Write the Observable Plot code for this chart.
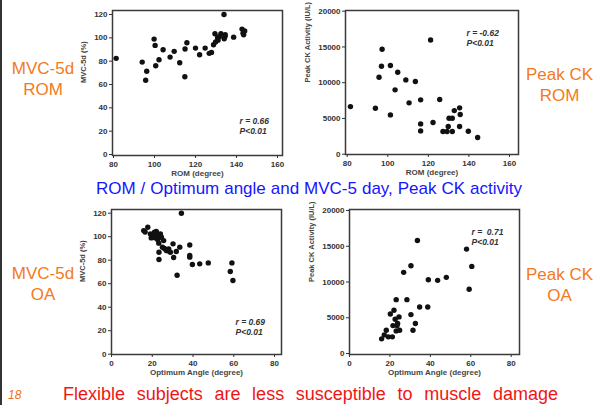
<!DOCTYPE html>
<html><head><meta charset="utf-8">
<script src="https://cdn.jsdelivr.net/npm/d3@7"></script>
<script src="https://cdn.jsdelivr.net/npm/@observablehq/plot@0.6"></script>
<style>
html,body{margin:0;padding:0;background:#fff;}
#slide{position:relative;width:603px;height:405px;overflow:hidden;background:#fff;font-family:"Liberation Sans",Arial,sans-serif;}
.panel{position:absolute;}
.lab{position:absolute;color:#f47a20;font-size:17px;line-height:21px;text-align:center;white-space:nowrap;}
#sub{position:absolute;left:96px;top:180px;width:426px;color:#1515ff;font-size:17px;line-height:17px;text-align:justify;text-align-last:justify;white-space:nowrap;}
#foot{position:absolute;left:63px;top:385px;width:495px;color:#f01515;font-size:18px;line-height:18px;text-align:justify;text-align-last:justify;white-space:nowrap;}
#num{position:absolute;left:8px;top:389px;color:#f07020;font-size:12px;line-height:12px;font-style:italic;}
#edge{position:absolute;left:0;top:0;width:2px;height:405px;background:#333;}
</style></head>
<body>
<div id="slide">
  <div id="edge"></div>
  <div class="panel" id="pA" style="left:60px;top:0px"></div>
  <div class="panel" id="pB" style="left:300px;top:0px"></div>
  <div class="panel" id="pC" style="left:60px;top:195px"></div>
  <div class="panel" id="pD" style="left:300px;top:195px"></div>
  <div class="lab" style="left:0;top:58px;width:86px">MVC-5d<br>ROM</div>
  <div class="lab" style="left:519px;top:64px;width:81px">Peak CK<br>ROM</div>
  <div class="lab" style="left:0;top:263px;width:86px">MVC-5d<br>OA</div>
  <div class="lab" style="left:519px;top:264px;width:81px">Peak CK<br>OA</div>
  <div id="sub">ROM / Optimum angle and MVC-5 day, Peak CK activity</div>
  <div id="num">18</div>
  <div id="foot">Flexible subjects are less susceptible to muscle damage</div>
</div>
<script>
// Panel A: ROM vs MVC-5d
const romA = [81.3,94,95.7,96.2,99.8,100.3,100.6,102.2,104.2,107.6,109.6,112.3,114.8,114.9,115.8,120,122,124.7,126.7,127.8,128.8,129.5,130.8,131.7,132.4,133.9,134,134.4,134.5,138.6,142.7,143.2,143.5,144,131,129.8];
const mvcA = [82.4,79.2,63.6,71.3,98.9,93.5,76.1,81.2,89.8,83.5,88.4,78.7,66.7,90.4,95.8,91.2,85.5,91.2,86.7,87.5,94.1,103.5,100.1,101.2,103.5,120,99.2,101.2,102.6,100.6,107.5,104,102.6,105.8,98,96.5];
// Panel B: ROM vs Peak CK
const romB = [81.6,93.9,95.7,97.2,96.9,101.3,101.3,103.6,104.9,108.9,110.5,113.6,116.2,116.2,116.2,121.1,122.3,125.6,127.2,129.2,129.8,130.2,131.8,131.8,132.8,135.4,135.7,135.4,139.7,144.3];
const ckB = [6660,6430,10770,14680,12300,12400,5500,9000,11460,10390,7180,10160,7600,4240,3260,15980,4430,7640,3170,3170,3870,5030,5030,3170,6100,6480,5550,3870,3220,2330];
// Panel C: Optimum angle vs MVC-5d
const oaC = [15.8,17.8,16.5,19.1,20.4,21.1,21.6,22.4,22.7,23.2,23.3,23.3,24,24.5,25,25.6,26.9,28.1,28.9,30.2,30.5,31.8,32.2,33.5,34.3,38.4,38.4,38.4,39.7,43.3,47.5,58.3,59.1,59.6,19.5,21,23.8,26,22,27.5];
const mvcC = [105.2,108,104,102.4,101.3,103.8,99,102.4,97.3,94.5,86.8,80.6,102.4,99.6,91,96.7,88.2,89.6,86.8,93.9,82.3,87.4,67.2,91.1,120,93,84,82.6,76.3,76.9,77.7,70.4,77.7,62.7,99,100,99.5,90,104.5,88];
// Panel D: Optimum angle vs Peak CK
const oaD = [15.9,17.2,18.2,19.2,21.2,20.2,22,21.5,22.6,23.1,23.5,23.8,24.5,24.8,23.1,26.8,28.4,30.4,30.4,31.4,32.6,33.6,34.7,38.7,39,43.6,47.9,57.9,59.2,60.5];
const ckD = [2050,2600,3250,2330,2330,5530,6050,3900,4790,3160,3900,4190,5120,3260,7530,11350,7530,12280,5440,3260,4190,15810,6510,6510,10320,10230,10650,14600,8980,12180];

const romTicks = [80,100,120,140,160];
const oaTicks = [0,20,40,60,80];
const mvcTicks = [0,20,40,60,80,100,120];
const ckTicks = [0,5000,10000,15000,20000];

const baseStyle = {fontFamily: '"Liberation Sans", Arial, sans-serif', fontSize: "8px", fontWeight: "bold", color: "#333", background: "transparent", overflow: "visible"};

function panel(o) {
  const data = o.xs.map((x, i) => ({x, y: o.ys[i]}));
  return Plot.plot({
    width: o.width, height: o.height,
    marginTop: o.m[0], marginRight: o.m[1], marginBottom: o.m[2], marginLeft: o.m[3],
    style: baseStyle,
    x: {domain: o.xDomain, range: o.xRange, ticks: o.xTicks, tickSize: 3, tickPadding: 2.5, label: null},
    y: {domain: o.yDomain, range: o.yRange, ticks: o.yTicks, tickSize: 3, tickPadding: 2, tickFormat: d3.format("d"), label: null},
    marks: [
      Plot.frame({stroke: "#3a3a3a", strokeWidth: 1.5}),
      Plot.dot(data, {x: "x", y: "y", r: 2.7, fill: "#111", stroke: "none"}),
      Plot.text([{t: o.xLabel}], {text: "t", frameAnchor: "bottom", dy: 20.5, fontSize: 8, fontWeight: "bold", fill: "#444"}),
      Plot.text([{t: o.yLabel}], {text: "t", frameAnchor: "left", dx: o.yDx, rotate: -90, fontSize: 7.5, fontWeight: "bold", fill: "#444"}),
      Plot.text([{t: o.note}], {text: "t", frameAnchor: o.noteAnchor, dx: o.noteDx, dy: o.noteDy, textAnchor: "start", fontStyle: "italic", fontWeight: "bold", fontSize: 8.5, lineHeight: 1.15, fill: "#333"})
    ]
  });
}

document.getElementById("pA").append(panel({
  xs: romA, ys: mvcA, width: 230, height: 185, m: [10, 8, 30, 52],
  xDomain: [80, 160], xRange: [53, 217], xTicks: romTicks,
  yDomain: [0, 120], yRange: [154, 14], yTicks: mvcTicks,
  xLabel: "ROM (degree)", yLabel: "MVC-5d (%)", yDx: -29,
  note: "r = 0.66\nP<0.01", noteAnchor: "bottom-right", noteDx: -43, noteDy: -21.5
}));
document.getElementById("pB").append(panel({
  xs: romB, ys: ckB, width: 230, height: 185, m: [10, 12, 31, 45],
  xDomain: [80, 160], xRange: [46.7, 209], xTicks: romTicks,
  yDomain: [0, 20000], yRange: [153.7, 10.7], yTicks: ckTicks,
  xLabel: "ROM (degree)", yLabel: "Peak CK Activity (IU/L)", yDx: -38,
  note: "r = -0.62\nP<0.01", noteAnchor: "top-right", noteDx: -52, noteDy: 18.3
}));
document.getElementById("pC").append(panel({
  xs: oaC, ys: mvcC, width: 230, height: 190, m: [14, 9, 31, 51],
  xDomain: [0, 80], xRange: [51, 214], xTicks: oaTicks,
  yDomain: [0, 120], yRange: [158.7, 17.7], yTicks: mvcTicks,
  xLabel: "Optimum Angle (degree)", yLabel: "MVC-5d (%)", yDx: -29,
  note: "r = 0.69\nP<0.01", noteAnchor: "bottom-right", noteDx: -46, noteDy: -20
}));
document.getElementById("pD").append(panel({
  xs: oaD, ys: ckD, width: 230, height: 190, m: [14, 11, 31, 49],
  xDomain: [0, 80], xRange: [49, 210.7], xTicks: oaTicks,
  yDomain: [0, 20000], yRange: [158, 15], yTicks: ckTicks,
  xLabel: "Optimum Angle (degree)", yLabel: "Peak CK Activity (IU/L)", yDx: -38,
  note: "r =\u00a0 0.71\nP<0.01", noteAnchor: "top-right", noteDx: -48, noteDy: 19
}));
</script>
</body></html>
